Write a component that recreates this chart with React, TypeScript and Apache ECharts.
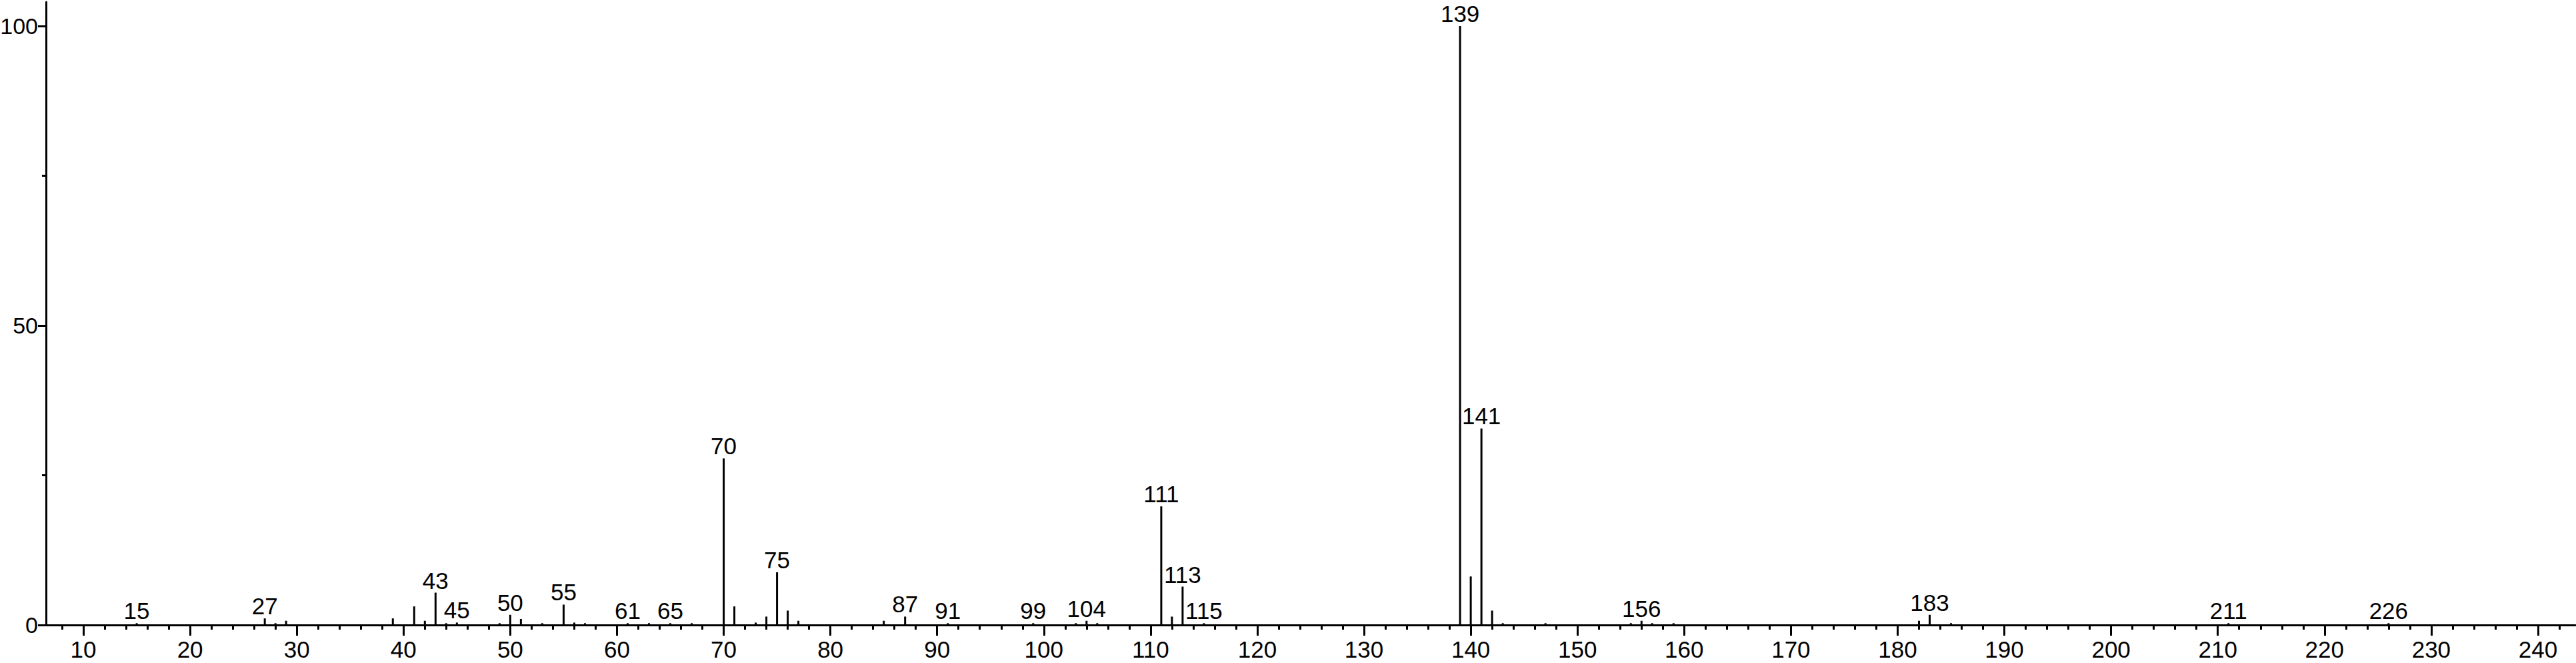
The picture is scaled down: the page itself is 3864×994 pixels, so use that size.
import React, { useEffect, useRef } from "react";
import * as echarts from "echarts";

// m/z values of the peaks
const mz = [
  15, 27, 28, 29, 39, 41, 42, 43, 44, 45, 49, 50, 51, 53, 55, 56, 57, 61, 63, 65, 67,
  70, 71, 73, 74, 75, 76, 77, 85, 87, 91, 99, 103, 104, 105, 111, 112, 113, 115,
  139, 140, 141, 142, 143, 147, 155, 156, 157, 159, 182, 183, 185, 211, 226,
];
// relative intensities (%)
const intensity = [
  0.3, 1.1, 0.3, 0.7, 1.1, 3.1, 0.7, 5.4, 0.3, 0.4, 0.3, 1.7, 1.0, 0.3, 3.4, 0.4, 0.3, 0.3, 0.3, 0.3, 0.3,
  27.8, 3.1, 0.4, 1.4, 8.8, 2.4, 0.7, 0.7, 1.4, 0.3, 0.3, 0.3, 0.7, 0.3, 19.8, 1.4, 6.4, 0.3,
  100, 8.1, 32.8, 2.4, 0.3, 0.3, 0.3, 0.7, 0.3, 0.3, 0.7, 1.7, 0.3, 0.3, 0.3,
];
// peaks that carry an m/z label
const labelledMz = [15, 27, 43, 45, 50, 55, 61, 65, 70, 75, 87, 91, 99, 104, 111, 113, 115, 139, 141, 156, 183, 211, 226];

const xMajorTicks = [10, 20, 30, 40, 50, 60, 70, 80, 90, 100, 110, 120, 130, 140, 150, 160, 170, 180, 190, 200, 210, 220, 230, 240];
const xMinorTicks = [
  8, 12, 14, 16, 18, 22, 24, 26, 28, 32, 34, 36, 38, 42, 44, 46, 48, 52, 54, 56, 58, 62, 64, 66, 68,
  72, 74, 76, 78, 82, 84, 86, 88, 92, 94, 96, 98, 102, 104, 106, 108, 112, 114, 116, 118,
  122, 124, 126, 128, 132, 134, 136, 138, 142, 144, 146, 148, 152, 154, 156, 158, 162, 164, 166, 168,
  172, 174, 176, 178, 182, 184, 186, 188, 192, 194, 196, 198, 202, 204, 206, 208, 212, 214, 216, 218,
  222, 224, 226, 228, 232, 234, 236, 238, 242,
];
const yMajorTicks = [0, 50, 100];
const yMinorTicks = [25, 75];

const X_MIN = 6.5;
const X_MAX = 243.5;
const Y_MAX = 104;

const FONT = "'Liberation Sans', Arial, sans-serif";

export default function App() {
  const ref = useRef<HTMLDivElement>(null);

  useEffect(() => {
    if (!ref.current) return;
    const chart = echarts.init(ref.current, null, { renderer: "svg" });
    const black = "#000";
    chart.setOption({
      animation: false,
      backgroundColor: "#fff",
      grid: { left: 69, right: 1, top: 3, bottom: 57, containLabel: false, outerBoundsMode: "none" },
      xAxis: [
        {
          type: "value",
          position: "bottom",
          min: X_MIN,
          max: X_MAX,
          axisLine: { show: true, onZero: false, lineStyle: { color: black, width: 3 } },
          axisTick: { show: true, customValues: xMajorTicks, length: 16, lineStyle: { color: black, width: 3 } },
          axisLabel: { show: true, customValues: xMajorTicks, margin: 19, fontSize: 35, color: black, fontFamily: FONT },
          splitLine: { show: false },
        },
        {
          type: "value",
          position: "bottom",
          min: X_MIN,
          max: X_MAX,
          axisLine: { show: false, onZero: false },
          axisTick: { show: true, customValues: xMinorTicks, length: 7, lineStyle: { color: black, width: 3 } },
          axisLabel: { show: false },
          splitLine: { show: false },
        },
      ],
      yAxis: [
        {
          type: "value",
          position: "left",
          min: 0,
          max: Y_MAX,
          axisLine: { show: true, onZero: false, lineStyle: { color: black, width: 3 } },
          axisTick: { show: true, customValues: yMajorTicks, length: 12, lineStyle: { color: black, width: 3 } },
          axisLabel: {
            show: true,
            customValues: yMajorTicks,
            margin: 12,
            fontSize: 34,
            color: black,
            fontFamily: FONT,
            padding: [8, 0, 0, 0],
          },
          splitLine: { show: false },
        },
        {
          type: "value",
          position: "left",
          min: 0,
          max: Y_MAX,
          axisLine: { show: false, onZero: false },
          axisTick: { show: true, customValues: yMinorTicks, length: 6, lineStyle: { color: black, width: 3 } },
          axisLabel: { show: false },
          splitLine: { show: false },
        },
      ],
      series: [
        {
          type: "bar",
          xAxisIndex: 0,
          yAxisIndex: 0,
          barWidth: 3,
          silent: true,
          itemStyle: { color: black },
          label: {
            show: false,
            position: "top",
            distance: 1,
            fontSize: 35,
            color: black,
            fontFamily: FONT,
            formatter: (p: any) => String(p.value[0]),
          },
          data: mz.map((m, i) => ({
            value: [m, intensity[i]],
            label: { show: labelledMz.includes(m) },
          })),
        },
      ],
    });
    return () => chart.dispose();
  }, []);

  return (
    <div
      ref={ref}
      style={{ position: "fixed", left: 0, top: 0, width: 3864, height: 994, background: "#fff" }}
    />
  );
}
